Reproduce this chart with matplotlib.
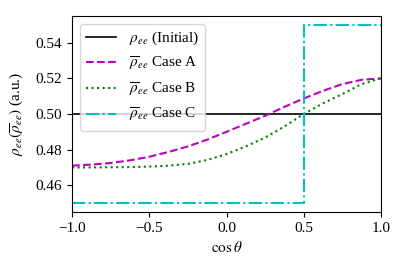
import matplotlib
matplotlib.use("Agg")
import matplotlib.pyplot as plt
import numpy as np

plt.rcParams['font.family'] = ['Liberation Serif', 'DejaVu Serif']
plt.rcParams['mathtext.fontset'] = 'stix'
plt.rcParams['font.size'] = 11

cos_theta = [-1.0, -0.875, -0.75, -0.625, -0.5, -0.375, -0.25, -0.125, 0.0,
             0.125, 0.25, 0.375, 0.5, 0.625, 0.75, 0.875, 1.0]
rho_initial = [0.50] * len(cos_theta)
case_a = [0.4710, 0.4716, 0.4725, 0.4740, 0.4760, 0.4787, 0.4818, 0.4856, 0.4900,
          0.4945, 0.4990, 0.5040, 0.5087, 0.5130, 0.5168, 0.5192, 0.5200]
case_b = [0.4700, 0.4700, 0.4701, 0.4702, 0.4705, 0.4710, 0.4720, 0.4742, 0.4775,
          0.4818, 0.4868, 0.4930, 0.5000, 0.5060, 0.5112, 0.5168, 0.5200]
case_c_x = [-1.0, 0.5, 0.5, 1.0]
case_c = [0.45, 0.45, 0.55, 0.55]

fig = plt.figure(figsize=(4.07, 2.71), dpi=100)
ax = fig.add_axes([72/407, 1 - 212/271, (381-72)/407, (212-16)/271])
ax.plot(cos_theta, rho_initial, 'k-', lw=1.2, label=r'$\rho_{ee}$ (Initial)')
ax.plot(cos_theta, case_a, 'm--', lw=1.5, label=r'$\overline{\rho}_{ee}$ Case A')
ax.plot(cos_theta, case_b, 'g:', lw=1.5, label=r'$\overline{\rho}_{ee}$ Case B')
ax.plot(case_c_x, case_c, 'c-.', lw=1.5, label=r'$\overline{\rho}_{ee}$ Case C')
ax.set_xlim(-1, 1)
ax.set_ylim(0.445, 0.555)
ax.set_xticks([-1.0, -0.5, 0.0, 0.5, 1.0])
ax.set_yticks([0.46, 0.48, 0.50, 0.52, 0.54])
ax.set_xlabel(r'$\cos\theta$')
ax.set_ylabel(r'$\rho_{ee}(\overline{\rho}_{ee})$ (a.u.)', labelpad=8)
ax.legend(loc='upper left')
fig.savefig('out.png', dpi=100)
